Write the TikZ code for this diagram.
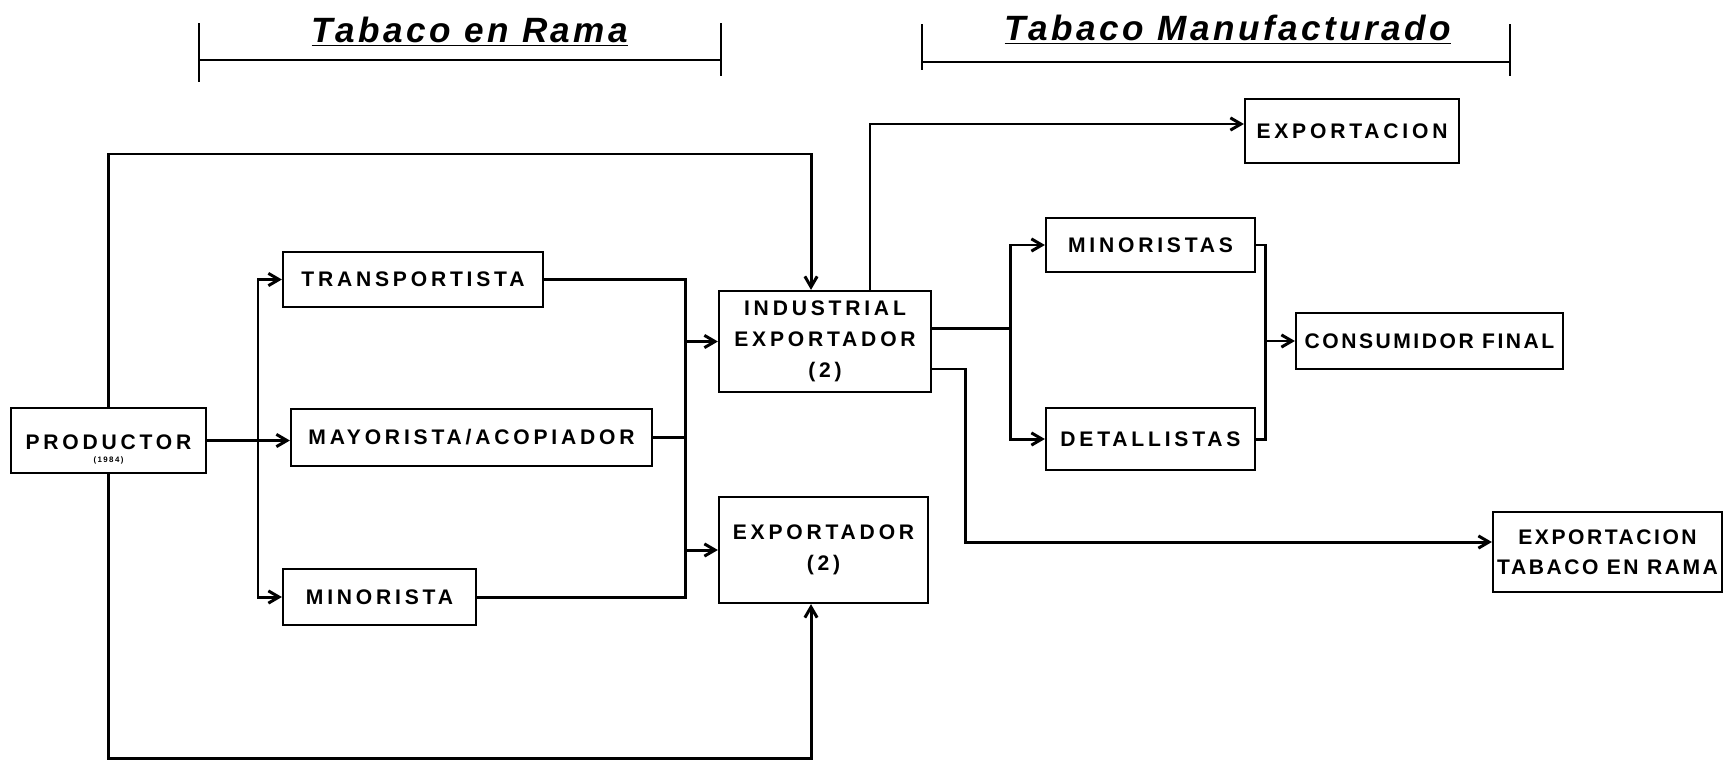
\documentclass[tikz,border=0pt]{standalone}
\usepackage{fontspec}
\setmainfont{Liberation Sans}
\newfontfamily\cajafont[LetterSpace=18]{Liberation Sans}
\newfontfamily\cajaestrecha[LetterSpace=12]{Liberation Sans}
\newfontfamily\titfont[LetterSpace=10]{Liberation Sans}
\usetikzlibrary{arrows.meta}
\tikzset{
	caja/.style={draw, line width=1.3pt, inner sep=0pt, align=center,
		font=\cajafont\bfseries\fontsize{12}{17.5}\selectfont},
	estrecha/.style={font=\cajaestrecha\bfseries\fontsize{12}{17}\selectfont},
	linea/.style={line width=1.7pt},
	flecha/.style={linea, -{Straight Barb[length=6pt,width=7pt]}},
	titulo/.style={font=\titfont\bfseries\itshape\fontsize{20}{24}\selectfont},
	corchete/.style={line width=1.5pt}
}

\begin{document}
\begin{tikzpicture}[x=0.02cm, y=-0.02cm]
			%%%%% START %%%%%
			\useasboundingbox (0,0) rectangle (1726,764);
			
			\node[titulo] (tituloRama) at (470, 32) {\underline{Tabaco en Rama}};
			\draw[corchete] (199, 23) -- (199, 82);
			\draw[corchete] (199, 60) -- (721, 60);
			\draw[corchete] (721, 23) -- (721, 76);
			
			\node[titulo] (tituloManu) at (1228, 30) {\underline{Tabaco Manufacturado}};
			\draw[corchete] (922, 24) -- (922, 70);
			\draw[corchete] (922, 62) -- (1510, 62);
			\draw[corchete] (1510, 24) -- (1510, 76);
			
			\node[caja, minimum width=3.9cm, minimum height=1.3cm] (prod) at (108.5, 440.5) {\rule{0pt}{19pt}PRODUCTOR\\[-10pt]{\fontsize{4.5}{5}\selectfont (1984)}};
			\node[caja, minimum width=5.2cm, minimum height=1.1cm] (trans) at (413, 279.5) {TRANSPORTISTA};
			\node[caja, minimum width=7.22cm, minimum height=1.14cm] (mayor) at (471.5, 437.5) {MAYORISTA/ACOPIADOR};
			\node[caja, minimum width=3.86cm, minimum height=1.12cm] (minor) at (379.5, 597) {MINORISTA};
			
			\node[caja, minimum width=4.24cm, minimum height=2.02cm] (indus) at (825, 341.5) {INDUSTRIAL\\EXPORTADOR\\(2)};
			\node[caja, minimum width=4.18cm, minimum height=2.12cm] (expor) at (823.5, 550) {EXPORTADOR\\(2)};
			
			\node[caja, minimum width=4.28cm, minimum height=1.28cm] (export) at (1352, 131) {EXPORTACION};
			\node[caja, minimum width=4.18cm, minimum height=1.08cm] (minors) at (1150.5, 245) {MINORISTAS};
			\node[caja, minimum width=4.18cm, minimum height=1.24cm] (detal) at (1150.5, 439) {DETALLISTAS};
			\node[caja, estrecha, minimum width=5.34cm, minimum height=1.12cm] (consu) at (1429.5, 341) {CONSUMIDOR FINAL};
			\node[caja, estrecha, minimum width=4.58cm, minimum height=1.6cm] (exptr) at (1607.5, 552) {EXPORTACION\\TABACO EN RAMA};
			
			\coordinate (busI) at (258, 0);
			\coordinate (busD) at (685, 0);
			\coordinate (busM) at (1010, 0);
			\coordinate (busC) at (1265, 0);
			\coordinate (codo) at (965, 0);
			\coordinate (arriba) at (0, 154);
			\coordinate (abajo) at (0, 758);
			\coordinate (entInd) at ([xshift=-0.28cm]indus.north);
			\coordinate (salInd) at ([xshift=0.9cm]indus.north);
			\coordinate (salIndD) at ([yshift=0.27cm]indus.east);
			\coordinate (salIndB) at ([yshift=-0.55cm]indus.east);
			\coordinate (entExpS) at ([xshift=-0.25cm]expor.south);
			
			\draw[flecha] (prod.east) -- (prod.east -| mayor.west);
			\draw[flecha] (busI |- prod.east) |- (trans.west);
			\draw[flecha] (busI |- prod.east) |- (minor.west);
			
			\draw[linea] (trans.east) -| (busD |- minor.east) -- (minor.east);
			\draw[linea] (mayor.east) -- (busD |- mayor.east);
			\draw[flecha] (busD |- indus.west) -- (indus.west);
			\draw[flecha] (busD |- expor.west) -- (expor.west);
			
			\draw[flecha] (prod.north) |- (arriba -| entInd) -- (entInd);
			\draw[flecha] (prod.south) |- (abajo -| entExpS) -- (entExpS);
			
			\draw[flecha] (salInd) |- ([yshift=0.14cm]export.west);
			\draw[linea] (salIndD) -- (salIndD -| busM);
			\draw[flecha] (salIndD -| busM) |- (minors.west);
			\draw[flecha] (salIndD -| busM) |- (detal.west);
			\draw[linea] (minors.east) -| (busC |- detal.east) -- (detal.east);
			\draw[flecha] (busC |- consu.west) -- (consu.west);
			\draw[flecha] (salIndB) -- (salIndB -| codo) |- ([yshift=0.2cm]exptr.west);
			
			%%%%% END %%%%%
\end{tikzpicture}
\end{document}
